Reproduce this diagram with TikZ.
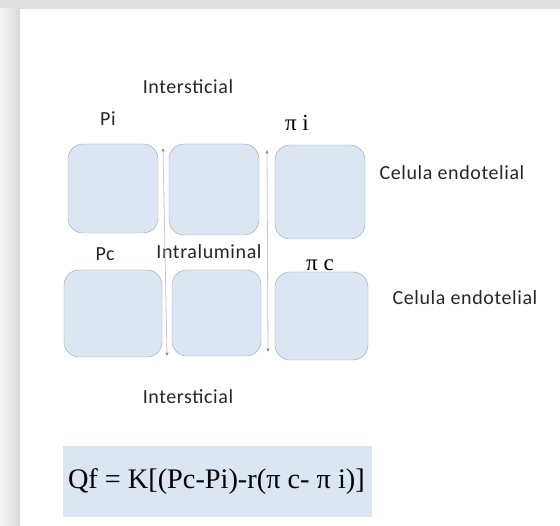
\documentclass[tikz,border=0pt]{standalone}
\usepackage{fontspec}
\newfontfamily\labelfont[LetterSpace=3]{Carlito}
\newfontfamily\formulafont{Liberation Serif}
\usetikzlibrary{arrows.meta}

\definecolor{cellfill}{RGB}{220,230,242}
\definecolor{celldraw}{RGB}{150,165,185}
\definecolor{flowline}{RGB}{215,195,195}
\definecolor{flowtip}{RGB}{120,135,160}

\begin{document}
\begin{tikzpicture}[
    x=1pt, y=-1pt,
    cell/.style={draw=celldraw, fill=cellfill, rounded corners=15pt, inner sep=0pt},
    lbl/.style={font=\labelfont\fontsize{20}{23}\selectfont, inner sep=0pt, text=black!85},
    pilbl/.style={font=\formulafont\fontsize{23}{26}\selectfont, inner sep=0pt},
    flow/.style={draw=flowline, line width=0.8pt, {Stealth[color=flowtip, length=4pt, width=3pt]}-{Stealth[color=flowtip, length=4pt, width=3pt]}}
]
% page frame
\fill[gray!25] (0,0) rectangle (560,526);
\shade[left color=gray!8, right color=gray!30] (0,9) rectangle (20,526);
\fill[white] (20,9) rectangle (560,526);
\useasboundingbox (0,0) rectangle (560,526);

% cells, upper row
\node[cell, minimum width=90pt, minimum height=89pt] (c1) at (113,188.5) {};
\node[cell, minimum width=90pt, minimum height=91pt] (c2) at (214,189.5) {};
\node[cell, minimum width=90pt, minimum height=94pt] (c3) at (320,192) {};
% cells, lower row
\node[cell, minimum width=98pt, minimum height=87pt] (c4) at (113,313.5) {};
\node[cell, minimum width=89pt, minimum height=86pt] (c5) at (216.5,313) {};
\node[cell, minimum width=93pt, minimum height=88pt] (c6) at (321.5,316) {};

% labels
\node[lbl] (intTop) at (188,87) {Intersticial};
\node[lbl] (pi) at (108,119) {Pi};
\node[pilbl] (pii) at (297,123) {π i};
\node[lbl] (celTop) at (452,173) {Celula endotelial};
\node[lbl] (pc) at (105,254) {Pc};
\node[lbl] (lumen) at (209,252) {Intraluminal};
\node[pilbl] (pic) at (320,265) {π c};
\node[lbl] (celBot) at (465,298) {Celula endotelial};
\node[lbl] (intBot) at (188,397) {Intersticial};

% flow between cells
\coordinate (g1top) at (163,148);
\coordinate (g1bot) at (167,356);
\coordinate (g2top) at (267,150);
\coordinate (g2bot) at (268,352);
\draw[flow] (g1top) -- (g1bot);
\draw[flow] (g2top) -- (g2bot);

% Starling equation
\node[fill=cellfill, minimum width=309pt, minimum height=71pt, inner sep=0pt] (eqbox) at (217.5,481.5) {};
\node[font=\formulafont\fontsize{28.3}{31}\selectfont, anchor=west, inner sep=0pt] (eq) at ([xshift=5pt]eqbox.west) {Qf = K[(Pc-Pi)-r(π c- π i)]};
\end{tikzpicture}
\end{document}
